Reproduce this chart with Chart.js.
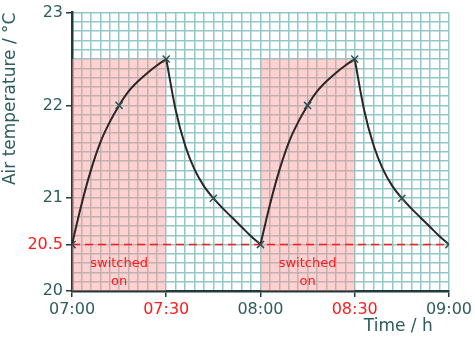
<!DOCTYPE html>
<html>
<head>
<meta charset="utf-8">
<script src="https://cdn.jsdelivr.net/npm/chart.js@4.4.1/dist/chart.umd.min.js"></script>
<style>
  html, body { margin: 0; padding: 0; background: #fff; }
  #wrap { width: 475px; height: 337px; }
</style>
</head>
<body>
<div id="wrap"><canvas id="grafico" width="475" height="337"></canvas></div>
<script>
// Pontos marcados (minutos depois das 07:00)
const tempos = [0, 15, 30, 45, 60, 75, 90, 105, 120];
const temperaturas = [20.5, 22.0, 22.5, 21.0, 20.5, 22.0, 22.5, 21.0, 20.5];

// Curva, a cada 3 minutos dentro de cada meia hora
const passoCurva = 3;
const curvaAquecendo = [20.5, 20.93, 21.3, 21.6, 21.82, 22.0, 22.15, 22.26, 22.35, 22.43, 22.5];
const curvaEsfriando = [22.5, 21.95, 21.57, 21.31, 21.13, 21.0, 20.89, 20.79, 20.69, 20.59, 20.5];
const iniciosCiclo = [0, 60];

const xTickValores = [0, 30, 60, 90, 120];
const xTickTextos = ['07:00', '07:30', '08:00', '08:30', '09:00'];
const xTickVermelhos = [30, 90];

const yTickValores = [20, 20.5, 21, 22, 23];
const yTickVermelhos = [20.5];

const periodosLigado = [[0, 30], [60, 90]];
const topoLigado = 22.5;
const linhaBase = 20.5;

const corTexto = '#2e5c5c';
const corGrade = '#93c6c6';
const corEixo = '#1f3a3a';
const vermelho = '#ff1a1a';

const igual = (a, b) => Math.abs(a - b) < 1e-6;

function segmento(inicio, valores) {
  return {
    type: 'line',
    data: valores.map((v, i) => ({ x: inicio + i * passoCurva, y: v })),
    borderColor: '#2b2626',
    borderWidth: 2,
    cubicInterpolationMode: 'monotone',
    pointRadius: 0,
    fill: false,
    order: 2
  };
}

const segmentos = [];
iniciosCiclo.forEach(c => {
  segmentos.push(segmento(c, curvaAquecendo));
  segmentos.push(segmento(c + 30, curvaEsfriando));
});

const marcas = {
  type: 'line',
  data: tempos.map((t, i) => ({ x: t, y: temperaturas[i] })),
  showLine: false,
  pointStyle: 'crossRot',
  pointRadius: 5,
  pointBorderWidth: 1.5,
  pointBorderColor: '#2f5050',
  order: 1
};

const sombras = periodosLigado.map(p => ({
  type: 'line',
  data: [{ x: p[0], y: topoLigado }, { x: p[1], y: topoLigado }],
  borderWidth: 0,
  pointRadius: 0,
  backgroundColor: 'rgba(255,150,150,0.44)',
  fill: 'start',
  order: 5
}));

const tracejada = {
  type: 'line',
  data: [{ x: tempos[0], y: linhaBase }, { x: tempos[tempos.length - 1], y: linhaBase }],
  borderColor: vermelho,
  borderWidth: 1.5,
  borderDash: [8, 5],
  pointRadius: 0,
  fill: false,
  order: 3
};

// Texto "switched on"
const textoLigado = {
  id: 'textoLigado',
  afterDatasetsDraw(chart) {
    const { ctx, scales } = chart;
    ctx.save();
    ctx.fillStyle = vermelho;
    ctx.font = '13px "DejaVu Sans"';
    ctx.textAlign = 'center';
    ctx.textBaseline = 'middle';
    periodosLigado.forEach(p => {
      const cx = scales.x.getPixelForValue((p[0] + p[1]) / 2);
      ctx.fillText('switched', cx, scales.y.getPixelForValue(20.3));
      ctx.fillText('on', cx, scales.y.getPixelForValue(20.1));
    });
    ctx.restore();
  }
};

const ctx = document.getElementById('grafico').getContext('2d');
const grafico = new Chart(ctx, {
  type: 'line',
  data: { datasets: [marcas, ...segmentos, tracejada, ...sombras] },
  options: {
    responsive: false,
    animation: false,
    layout: { padding: { top: 8, right: 23, left: 0, bottom: 0 } },
    plugins: { legend: { display: false }, tooltip: { enabled: false } },
    scales: {
      x: {
        type: 'linear',
        min: 0,
        max: 120,
        afterFit: s => { s.height = 46; },
        ticks: {
          stepSize: 3,
          autoSkip: false,
          maxRotation: 0,
          padding: 3,
          font: { family: 'DejaVu Sans', size: 16 },
          color: c => xTickVermelhos.some(v => igual(v, c.tick.value)) ? vermelho : corTexto,
          callback: v => {
            const i = xTickValores.findIndex(t => igual(t, v));
            return i >= 0 ? xTickTextos[i] : '';
          }
        },
        grid: {
          color: corGrade,
          lineWidth: 1.5,
          tickLength: 6,
          tickColor: c => xTickValores.some(v => igual(v, c.tick.value)) ? corEixo : 'rgba(0,0,0,0)'
        },
        border: { color: corEixo, width: 2.5 },
        title: {
          display: true,
          text: 'Time / h\u00a0\u00a0\u00a0',
          align: 'end',
          color: corTexto,
          padding: 0,
          font: { family: 'DejaVu Sans', size: 17 }
        }
      },
      y: {
        min: 20,
        max: 23,
        afterFit: s => { s.width = 72; },
        ticks: {
          stepSize: 0.1,
          autoSkip: false,
          padding: 3,
          font: { family: 'DejaVu Sans', size: 16 },
          color: c => yTickVermelhos.some(v => igual(v, c.tick.value)) ? vermelho : corTexto,
          callback: v => yTickValores.some(t => igual(t, v)) ? String(Math.round(v * 10) / 10) : ''
        },
        grid: {
          color: corGrade,
          lineWidth: 1.5,
          tickLength: 6,
          tickColor: c => yTickValores.some(v => igual(v, c.tick.value)) ? corEixo : 'rgba(0,0,0,0)'
        },
        border: { color: corEixo, width: 2.5 },
        title: {
          display: true,
          text: 'Air temperature / °C',
          align: 'end',
          color: corTexto,
          padding: 0,
          font: { family: 'DejaVu Sans', size: 17 }
        }
      }
    }
  },
  plugins: [textoLigado]
});
</script>
</body>
</html>
